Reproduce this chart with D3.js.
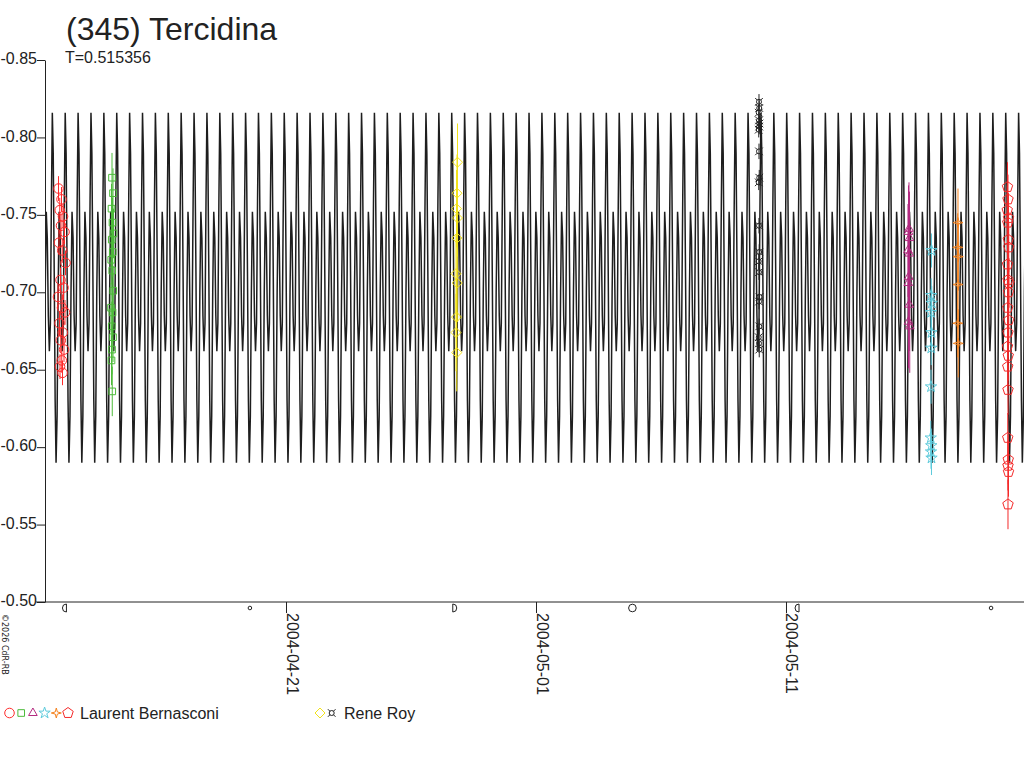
<!DOCTYPE html>
<html lang="en">
<head>
<meta charset="utf-8">
<title>(345) Tercidina</title>
<script src="https://cdn.jsdelivr.net/npm/d3@7/dist/d3.min.js"></script>
<style>
  body { margin: 0; background: #fff; }
  svg { display: block; font-family: "Liberation Sans", Arial, sans-serif; }
  .axis text { font-size: 16px; fill: #222; }
  .axis line, .axis path { stroke: #222; }
</style>
</head>
<body>
<svg id="chart" width="1024" height="768"></svg>
<script>
// ---- data ----
var title = "(345) Tercidina";
var periodLabel = "T=0.515356";
var period = 0.515356;           // days
var curveEpoch = "2004-04-21T23:02Z"; // a maximum of the model curve
var dayRef = "2004-04-21T00:00Z";  // observation times are days from this
var timeDomain = ["2004-04-11T08:38Z", "2004-05-20T12:29Z"];
var dateTicks = ["2004-04-21T00:00Z", "2004-05-01T00:00Z", "2004-05-11T00:00Z"];
var magTicks = [-0.85, -0.80, -0.75, -0.70, -0.65, -0.60, -0.55, -0.50];

// one cycle of the model light curve: phase and magnitude
var tplPhase = [0.00, 0.07, 0.15, 0.22, 0.29, 0.37, 0.45, 0.53, 0.61, 0.69, 0.77, 0.85, 0.93];
var tplMag   = [-0.816, -0.790, -0.710, -0.630, -0.590, -0.620, -0.700, -0.752, -0.735, -0.685, -0.662, -0.680, -0.760];

// observations [day from dayRef, magnitude]
var lbCircle = [[-9.10,-0.767],[-8.98,-0.760],[-9.05,-0.753],[-8.92,-0.749],[-9.00,-0.743],[-8.86,-0.739],[-9.08,-0.732],
  [-8.95,-0.727],[-8.82,-0.719],[-9.02,-0.708],[-8.90,-0.703],[-9.12,-0.697],[-8.96,-0.690],[-8.84,-0.687],[-9.06,-0.680],
  [-8.93,-0.674],[-9.01,-0.669],[-8.88,-0.663],[-8.97,-0.656],[-9.04,-0.652],[-8.94,-0.648]];
var lbSquare = [[-6.96,-0.774],[-6.92,-0.764],[-6.98,-0.754],[-6.94,-0.745],[-6.90,-0.738],[-6.97,-0.734],[-6.93,-0.726],
  [-6.99,-0.721],[-6.95,-0.714],[-6.91,-0.701],[-7.00,-0.690],[-6.94,-0.687],[-6.97,-0.678],[-6.92,-0.671],[-6.96,-0.663],
  [-6.98,-0.656],[-6.95,-0.636]];
var lbTriangle = [[24.92,-0.741],[24.90,-0.739],[24.94,-0.735],[24.88,-0.727],[24.93,-0.725],[24.91,-0.710],[24.89,-0.706],
  [24.93,-0.692],[24.90,-0.681],[24.95,-0.678]];
var lbStar = [[25.82,-0.727],[25.81,-0.698],[25.83,-0.693],[25.80,-0.687],[25.82,-0.674],[25.81,-0.664],[25.80,-0.639],
  [25.79,-0.606],[25.81,-0.601],[25.80,-0.597],[25.82,-0.593]];
var lbStar4 = [[26.88,-0.745],[26.87,-0.729],[26.89,-0.723],[26.88,-0.705],[26.87,-0.680],[26.89,-0.667]];
var lbPentagon = [[28.86,-0.768],[28.88,-0.760],[28.85,-0.753],[28.90,-0.748],[28.87,-0.745],[28.89,-0.734],[28.91,-0.729],
  [28.86,-0.718],[28.88,-0.708],[28.92,-0.706],[28.90,-0.700],[28.87,-0.690],[28.91,-0.682],[28.88,-0.674],[28.86,-0.665],
  [28.89,-0.659],[28.87,-0.652],[28.88,-0.637],[28.87,-0.606],[28.89,-0.592],[28.88,-0.588],[28.90,-0.584],[28.88,-0.563]];
var rrDiamond = [[6.86,-0.784],[6.84,-0.764],[6.82,-0.754],[6.86,-0.748],[6.84,-0.735],[6.80,-0.712],[6.85,-0.706],
  [6.82,-0.684],[6.80,-0.674],[6.83,-0.661]];
var rrCurrency = [[18.92,-0.823],[18.93,-0.819],[18.91,-0.816],[18.92,-0.811],[18.94,-0.809],[18.93,-0.807],[18.91,-0.805],
  [18.92,-0.791],[18.93,-0.774],[18.91,-0.771],[18.92,-0.743],[18.93,-0.726],[18.91,-0.720],[18.92,-0.713],[18.94,-0.697],
  [18.92,-0.694],[18.93,-0.678],[18.91,-0.671],[18.92,-0.667],[18.93,-0.663]];

var moonDates = ["2004-04-12T03:46Z", "2004-04-19T13:21Z", "2004-04-27T17:32Z", "2004-05-04T20:33Z", "2004-05-11T11:04Z", "2004-05-19T04:52Z"];
var moonPhases = ["LQ", "NM", "FQ", "FM", "LQ", "NM"];

var observers = ["Laurent Bernasconi", "Rene Roy"];

// ---- marker shapes ----
function polyPath(pts) { return "M" + pts.map(function(p){ return p[0].toFixed(2) + "," + p[1].toFixed(2); }).join("L") + "Z"; }
function ngon(n, r, rot) {
  var pts = [];
  for (var i = 0; i < n; i++) { var a = rot + i * 2 * Math.PI / n; pts.push([r * Math.sin(a), -r * Math.cos(a)]); }
  return polyPath(pts);
}
function star4(r) {
  var pts = [];
  for (var i = 0; i < 8; i++) { var a = i * Math.PI / 4, rr = i % 2 ? r * 0.3 : r; pts.push([rr * Math.sin(a), -rr * Math.cos(a)]); }
  return polyPath(pts);
}
function currency() {
  return "M-2.5,0A2.5,2.5 0 1,0 2.5,0A2.5,2.5 0 1,0 -2.5,0" +
    "M-1.8,-1.8L-3.8,-3.8M1.8,-1.8L3.8,-3.8M-1.8,1.8L-3.8,3.8M1.8,1.8L3.8,3.8";
}
var shapes = {
  circle: d3.symbol(d3.symbolCircle, 72)(),
  square: d3.symbol(d3.symbolSquare, 44)(),
  triangle: ngon(3, 5, 0),
  star: d3.symbol(d3.symbolStar, 40)(),
  star4: star4(5),
  pentagon: ngon(5, 5.5, 0),
  diamond: ngon(4, 5, 0),
  currency: currency()
};

var series = [
  { obs: 0, data: lbCircle, shape: "circle", color: "#ff2a2a", err: 0.008 },
  { obs: 0, data: lbSquare, shape: "square", color: "#4dbb3a", err: 0.016 },
  { obs: 0, data: lbTriangle, shape: "triangle", color: "#b42a80", err: 0.03 },
  { obs: 0, data: lbStar, shape: "star", color: "#5ecbdc", err: 0.011 },
  { obs: 0, data: lbStar4, shape: "star4", color: "#f4821e", err: 0.022 },
  { obs: 0, data: lbPentagon, shape: "pentagon", color: "#f42a2a", err: 0.016 },
  { obs: 1, data: rrDiamond, shape: "diamond", color: "#f2e21a", err: 0.025 },
  { obs: 1, data: rrCurrency, shape: "currency", color: "#222", err: 0.005 }
];

// ---- chart ----
var svg = d3.select("#chart");
var parse = d3.isoParse;
var x = d3.scaleUtc().domain(timeDomain.map(parse)).range([45, 1024]);
var y = d3.scaleLinear().domain([-0.85, -0.50]).range([60, 602]);
var ref = parse(dayRef).getTime();
function dayToDate(d) { return new Date(ref + d * 864e5); }

svg.append("defs").append("clipPath").attr("id", "plot")
  .append("rect").attr("x", 45).attr("y", 0).attr("width", 979).attr("height", 602);

// model curve, one cycle template repeated each period
var ep = parse(curveEpoch).getTime(), pMs = period * 864e5;
var t0 = x.domain()[0].getTime(), t1 = x.domain()[1].getTime();
var curvePts = [];
for (var k = Math.floor((t0 - ep) / pMs) - 1; k <= Math.ceil((t1 - ep) / pMs) + 1; k++) {
  tplPhase.forEach(function(ph, i) { curvePts.push([new Date(ep + (k + ph) * pMs), tplMag[i]]); });
}
svg.append("path")
  .attr("clip-path", "url(#plot)")
  .attr("d", d3.line().x(function(d){ return x(d[0]); }).y(function(d){ return y(d[1]); })(curvePts))
  .attr("fill", "none").attr("stroke", "#1e1e1e").attr("stroke-width", 1.5);

// observations with error bars
var obsG = svg.append("g").attr("clip-path", "url(#plot)");
series.forEach(function(s) {
  var g = obsG.append("g");
  g.selectAll("line").data(s.data).enter().append("line")
    .attr("x1", function(d){ return x(dayToDate(d[0])); })
    .attr("x2", function(d){ return x(dayToDate(d[0])); })
    .attr("y1", function(d){ return y(d[1] - s.err); })
    .attr("y2", function(d){ return y(d[1] + s.err); })
    .attr("stroke", s.color).attr("stroke-width", 1);
  g.selectAll("path").data(s.data).enter().append("path")
    .attr("d", shapes[s.shape])
    .attr("transform", function(d){ return "translate(" + x(dayToDate(d[0])) + "," + y(d[1]) + ")"; })
    .attr("fill", "none").attr("stroke", s.color).attr("stroke-width", 1);
});

// y axis
var yAxis = svg.append("g").attr("class", "axis").attr("transform", "translate(45,0)")
  .call(d3.axisLeft(y).tickValues(magTicks).tickSize(8).tickSizeOuter(0).tickPadding(0)
    .tickFormat(function(v){ return v.toFixed(2); }));
yAxis.selectAll("text").attr("dy", "0.23em");

// x axis
var xAxis = svg.append("g").attr("class", "axis").attr("transform", "translate(0,602)")
  .call(d3.axisBottom(x).tickValues(dateTicks.map(parse)).tickSize(11).tickSizeOuter(0)
    .tickFormat(d3.utcFormat("%Y-%m-%d")));
xAxis.select(".domain").remove();
xAxis.append("line").attr("x1", 36).attr("x2", 1024).attr("stroke", "#222");
xAxis.selectAll(".tick text")
  .attr("transform", "rotate(90)")
  .attr("text-anchor", "start")
  .attr("x", 11).attr("y", 0).attr("dy", 0);

// moon phases under the axis
var moonG = svg.append("g").attr("fill", "none").attr("stroke", "#222").attr("stroke-width", 1);
moonDates.forEach(function(m, i) {
  var cx = x(parse(m)), cy = 608, ph = moonPhases[i];
  if (ph === "NM") moonG.append("circle").attr("cx", cx).attr("cy", cy).attr("r", 1.8);
  else if (ph === "FM") moonG.append("circle").attr("cx", cx).attr("cy", cy).attr("r", 3.8);
  else if (ph === "LQ") moonG.append("path").attr("d", "M" + (cx + 1.5) + "," + (cy - 4) + "V" + (cy + 4) + "A4,4 0 0,1 " + (cx + 1.5) + "," + (cy - 4));
  else moonG.append("path").attr("d", "M" + (cx - 1.5) + "," + (cy - 4) + "V" + (cy + 4) + "A4,4 0 0,0 " + (cx - 1.5) + "," + (cy - 4));
});

// titles
svg.append("text").attr("x", 66).attr("y", 40).attr("font-size", 32).attr("fill", "#222").text(title);
svg.append("text").attr("x", 65).attr("y", 63).attr("font-size", 16).attr("fill", "#222").text(periodLabel);
svg.append("text").attr("transform", "translate(2,614) rotate(90)")
  .attr("font-size", 8).attr("fill", "#222").attr("font-family", "DejaVu Sans").text("\u00a92026 CdR-RB");

// legend
var legendX = [9.5, 320];
var legendText = [80, 344];
observers.forEach(function(name, oi) {
  var items = series.filter(function(s){ return s.obs === oi; });
  items.forEach(function(s, j) {
    svg.append("path").attr("d", shapes[s.shape])
      .attr("transform", "translate(" + (legendX[oi] + j * 11.7) + ",713)")
      .attr("fill", "none").attr("stroke", s.color).attr("stroke-width", 1);
  });
  svg.append("text").attr("x", legendText[oi]).attr("y", 719).attr("font-size", 16).attr("fill", "#222").text(name);
});
</script>
</body>
</html>
